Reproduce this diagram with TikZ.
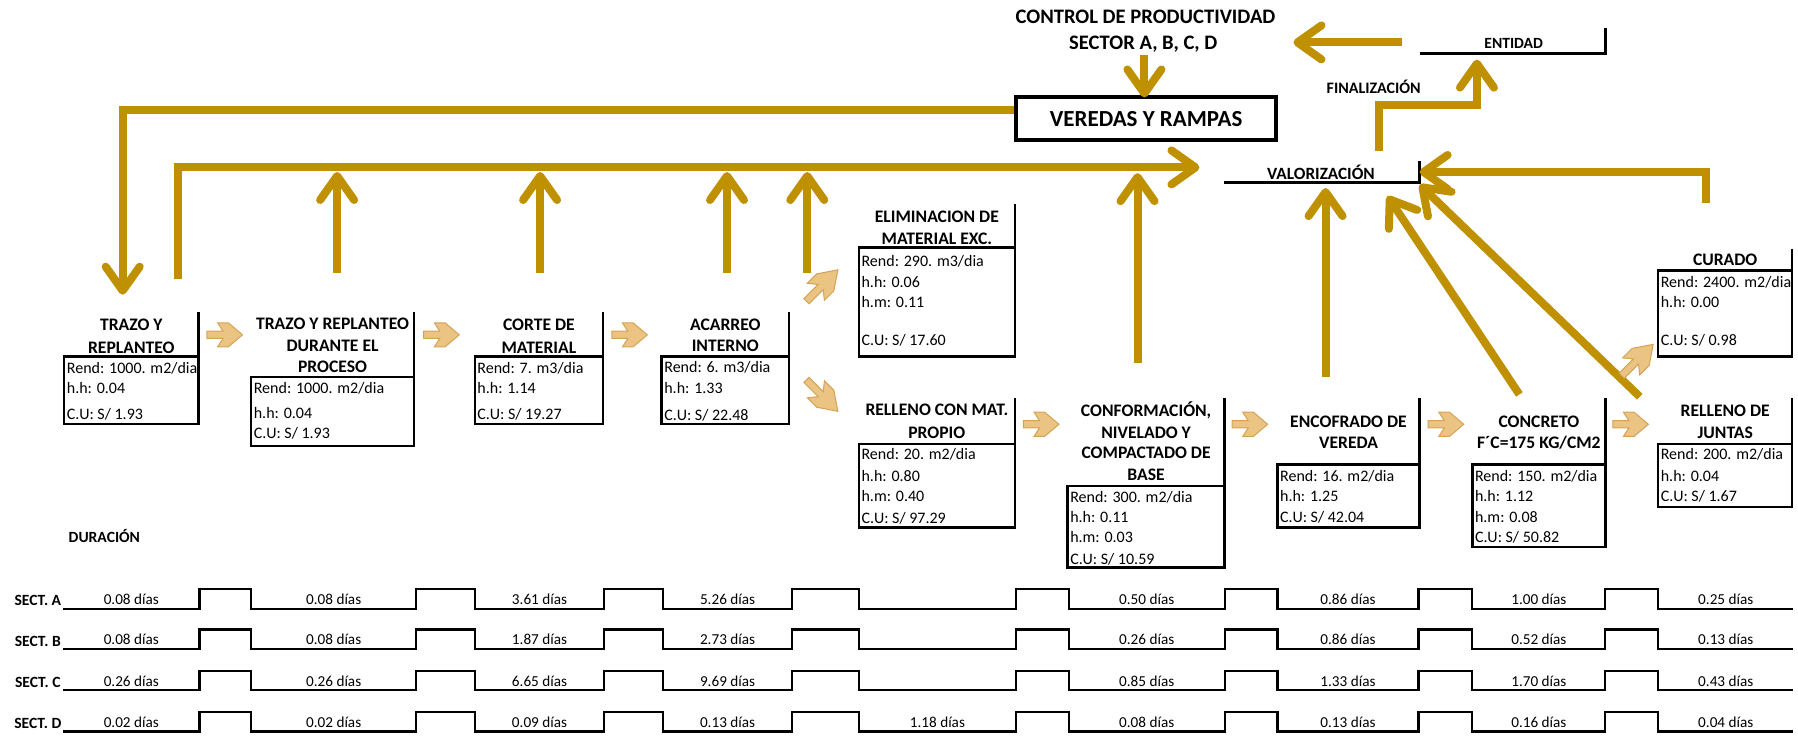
\documentclass[tikz,border=0pt]{standalone}
\usepackage{fontspec}
\setmainfont{Carlito}
\usetikzlibrary{arrows.meta}

\definecolor{gold}{RGB}{191,144,0}
\definecolor{tanfill}{RGB}{235,195,130}
\definecolor{tanedge}{RGB}{212,163,85}

\tikzset{
  flow/.style={line width=4pt, draw=gold},
  tip/.style={-{Straight Barb[length=12pt,width=17pt,round]}},
  boxln/.style={line width=1.2pt},
  tl/.style={line width=1.1pt},
  ttl/.style={font=\fontsize{8.8}{10}\selectfont\bfseries, anchor=base, inner sep=0pt, yshift=-2.85pt},
  dat/.style={font=\fontsize{8}{9.6}\selectfont, anchor=base west, inner sep=0pt, yshift=-2.6pt},
  dur/.style={font=\fontsize{7.6}{9}\selectfont, anchor=base, inner sep=0pt, yshift=-2.45pt},
  sect/.style={font=\fontsize{7.8}{9}\selectfont\bfseries, anchor=base, inner sep=0pt, yshift=-2.5pt},
  lbl/.style={font=\fontsize{#1}{10}\selectfont\bfseries, anchor=base, inner sep=0pt, yshift=-0.322*#1 pt},
  tanarr/.pic={\filldraw[fill=tanfill, draw=tanedge, line width=0.5pt]
     (-15.5,3.15) -- (-1.5,3.15) -- (-6.2,10.5) -- (3.1,10.5) -- (15.5,0)
     -- (3.1,-10.5) -- (-6.2,-10.5) -- (-1.5,-3.15) -- (-15.5,-3.15) -- cycle;}
}

% frame of an activity: data box plus the rule on the right of its title
\newcommand\procframe[5]{%
  \draw[boxln] (#1,#4) rectangle (#2,#5);
  \draw[boxln] (#2,#3) -- (#2,#4);}

% one row of durations, centred on the low parts of the time line
\newcommand\durrow[9]{%
  \foreach \cx/\v [count=\k] in {114.5/{#1},291/{#2},470.5/{#3},634.5/{#4},817.5/{#5},1000/{#6},1175.5/{#7},1342/{#8},1505/{#9}}
    {\node[dur] (d\rowid\k) at (\cx,{\rowy-8}) {\v};}}

\begin{document}
\begin{tikzpicture}[x=0.5734pt, y=-0.5734pt]
\useasboundingbox (0,0) rectangle (1568,641);

% ---------- header ----------
\node[lbl=10.3] (ctrl1) at (999,15) {CONTROL DE PRODUCTIVIDAD};
\node[lbl=10.3] (ctrl2) at (997,37) {SECTOR A, B, C, D};
\node[draw, line width=2pt, minimum width=130.2pt, minimum height=21.2pt,
      font=\fontsize{11.5}{13}\selectfont\bfseries, inner sep=0pt] (veredas) at (999.5,103.5) {VEREDAS Y RAMPAS};

\node[lbl=7.8] (entidad) at (1320,38) {ENTIDAD};
\draw[line width=1.5pt] (1238,46.5) -- (1400,46.5) -- (1400,24);
\node[lbl=8] (final) at (1198,77) {FINALIZACIÓN};
\node[lbl=8.6] (valor) at (1152,152) {VALORIZACIÓN};
\draw[line width=1.5pt] (1067,159) -- (1238,159) -- (1238,140);

% ---------- activities ----------
\procframe{56}{173}{272}{311}{370}
\node[ttl] (p1t1) at (114.5,283) {TRAZO Y};
\node[ttl] (p1t2) at (114.5,303) {REPLANTEO};
\node[dat] (p1d1) at (58,321) {Rend: 1000. m2/dia};
\node[dat] (p1d2) at (58,339) {h.h: 0.04};
\node[dat] (p1d3) at (58,361) {C.U: S/ 1.93};

\procframe{219}{361}{272}{329}{389}
\node[ttl] (p2t1) at (290,282) {TRAZO Y REPLANTEO};
\node[ttl] (p2t2) at (290,302) {DURANTE EL};
\node[ttl] (p2t3) at (290,320) {PROCESO};
\node[dat] (p2d1) at (221,339) {Rend: 1000. m2/dia};
\node[dat] (p2d2) at (221,360) {h.h: 0.04};
\node[dat] (p2d3) at (221,378) {C.U: S/ 1.93};

\procframe{414}{526}{272}{311}{370}
\node[ttl] (p3t1) at (470,283) {CORTE DE};
\node[ttl] (p3t2) at (470,303) {MATERIAL};
\node[dat] (p3d1) at (416,321) {Rend: 7. m3/dia};
\node[dat] (p3d2) at (416,339) {h.h: 1.14};
\node[dat] (p3d3) at (416,361) {C.U: S/ 19.27};

\procframe{577}{688}{272}{311}{370}
\node[ttl] (p4t1) at (632.5,283) {ACARREO};
\node[ttl] (p4t2) at (632.5,302) {INTERNO};
\node[dat] (p4d1) at (579,320) {Rend: 6. m3/dia};
\node[dat] (p4d2) at (579,339) {h.h: 1.33};
\node[dat] (p4d3) at (579,362) {C.U: S/ 22.48};

\procframe{749}{885}{178}{216}{311}
\node[ttl] (p5t1) at (817,189) {ELIMINACION DE};
\node[ttl] (p5t2) at (817,208) {MATERIAL EXC.};
\node[dat] (p5d1) at (751,228) {Rend: 290. m3/dia};
\node[dat] (p5d2) at (751,246) {h.h: 0.06};
\node[dat] (p5d3) at (751,264) {h.m: 0.11};
\node[dat] (p5d4) at (751,297) {C.U: S/ 17.60};

\procframe{749}{885}{347}{387}{460}
\node[ttl] (p6t1) at (817,357) {RELLENO CON MAT.};
\node[ttl] (p6t2) at (817,377) {PROPIO};
\node[dat] (p6d1) at (751,396) {Rend: 20. m2/dia};
\node[dat] (p6d2) at (751,415) {h.h: 0.80};
\node[dat] (p6d3) at (751,433) {h.m: 0.40};
\node[dat] (p6d4) at (751,452) {C.U: S/ 97.29};

\procframe{931}{1068}{347}{424}{495}
\node[ttl] (p7t1) at (999.5,358) {CONFORMACIÓN,};
\node[ttl] (p7t2) at (999.5,377) {NIVELADO Y};
\node[ttl] (p7t3) at (999.5,395) {COMPACTADO DE};
\node[ttl] (p7t4) at (999.5,414) {BASE};
\node[dat] (p7d1) at (933,434) {Rend: 300. m2/dia};
\node[dat] (p7d2) at (933,451) {h.h: 0.11};
\node[dat] (p7d3) at (933,469) {h.m: 0.03};
\node[dat] (p7d4) at (933,488) {C.U: S/ 10.59};

\procframe{1114}{1238}{347}{405}{460}
\node[ttl] (p8t1) at (1176,368) {ENCOFRADO DE};
\node[ttl] (p8t2) at (1176,386) {VEREDA};
\node[dat] (p8d1) at (1116,415) {Rend: 16. m2/dia};
\node[dat] (p8d2) at (1116,433) {h.h: 1.25};
\node[dat] (p8d3) at (1116,451) {C.U: S/ 42.04};

\procframe{1284}{1400}{347}{405}{477}
\node[ttl] (p9t1) at (1342,368) {CONCRETO};
\node[ttl] (p9t2) at (1342,386) {F´C=175 KG/CM2};
\node[dat] (p9d1) at (1286,415) {Rend: 150. m2/dia};
\node[dat] (p9d2) at (1286,433) {h.h: 1.12};
\node[dat] (p9d3) at (1286,451) {h.m: 0.08};
\node[dat] (p9d4) at (1286,469) {C.U: S/ 50.82};

\procframe{1446}{1563}{347}{387}{442}
\node[ttl] (p10t1) at (1504.5,358) {RELLENO DE};
\node[ttl] (p10t2) at (1504.5,377) {JUNTAS};
\node[dat] (p10d1) at (1448,396) {Rend: 200. m2/dia};
\node[dat] (p10d2) at (1448,415) {h.h: 0.04};
\node[dat] (p10d3) at (1448,433) {C.U: S/ 1.67};

\procframe{1446}{1563}{217}{236}{311}
\node[ttl] (p11t1) at (1504.5,227) {CURADO};
\node[dat] (p11d1) at (1448,246) {Rend: 2400. m2/dia};
\node[dat] (p11d2) at (1448,264) {h.h: 0.00};
\node[dat] (p11d3) at (1448,297) {C.U: S/ 0.98};

% ---------- feedback lines ----------
\draw[flow, tip] (veredas.west |- 0,96) -| (107,257);
\draw[flow, tip] (155,243) |- (1046,146);
\foreach \ux in {294,471,634,704}
  \draw[flow, tip] (\ux,238) -- (\ux,150);
\draw[flow, tip] (992,317) -- (992,151);
\draw[flow, tip] (1156,329) -- (1156,164);
\draw[flow, tip] (1325,344) -- (1210,171);
\draw[flow, tip] (1430,346) -- (1238,161);
\draw[flow, tip] (1488,177) |- (1238,150);
\draw[flow, tip] (1203,132) |- (1288,92) -- (1288,52);
\draw[flow, tip] (1223,37) -- (1128,37);
\draw[flow, tip] (998,48) -- (998,85);

% ---------- sequence arrows ----------
\pic at (196,292) {tanarr};
\pic at (385,292) {tanarr};
\pic at (549,292) {tanarr};
\pic[rotate=45, xscale=1.25] at (717,249) {tanarr};
\pic[rotate=-45, xscale=1.25] at (717,345) {tanarr};
\pic at (908,370) {tanarr};
\pic at (1090,370) {tanarr};
\pic at (1261,370) {tanarr};
\pic at (1422,370) {tanarr};
\pic[rotate=45, xscale=1.25] at (1428,314) {tanarr};

% ---------- durations ----------
\node[sect] (durac) at (91,469) {DURACIÓN};
\foreach \yl/\r in {531/A,566/B,602/C,638/D}{
  \pgfmathsetmacro\yh{\yl-17}
  \node[sect] (sect\r) at (33,\yl-7) {SECT. \r};
  \draw[tl] (55,\yl) -- (174,\yl) |- (219,\yh) |- (363,\yl) |- (414,\yh) |- (527,\yl)
    |- (578,\yh) |- (691,\yl) |- (749,\yh) |- (886,\yl) |- (932,\yh) |- (1068,\yl)
    |- (1114,\yh) |- (1237,\yl) |- (1284,\yh) |- (1400,\yl) |- (1446,\yh) |- (1564,\yl);
}
\def\rowid{A}\def\rowy{531}
\durrow{0.08 días}{0.08 días}{3.61 días}{5.26 días}{}{0.50 días}{0.86 días}{1.00 días}{0.25 días}
\def\rowid{B}\def\rowy{566}
\durrow{0.08 días}{0.08 días}{1.87 días}{2.73 días}{}{0.26 días}{0.86 días}{0.52 días}{0.13 días}
\def\rowid{C}\def\rowy{602}
\durrow{0.26 días}{0.26 días}{6.65 días}{9.69 días}{}{0.85 días}{1.33 días}{1.70 días}{0.43 días}
\def\rowid{D}\def\rowy{638}
\durrow{0.02 días}{0.02 días}{0.09 días}{0.13 días}{1.18 días}{0.08 días}{0.13 días}{0.16 días}{0.04 días}
\end{tikzpicture}
\end{document}
